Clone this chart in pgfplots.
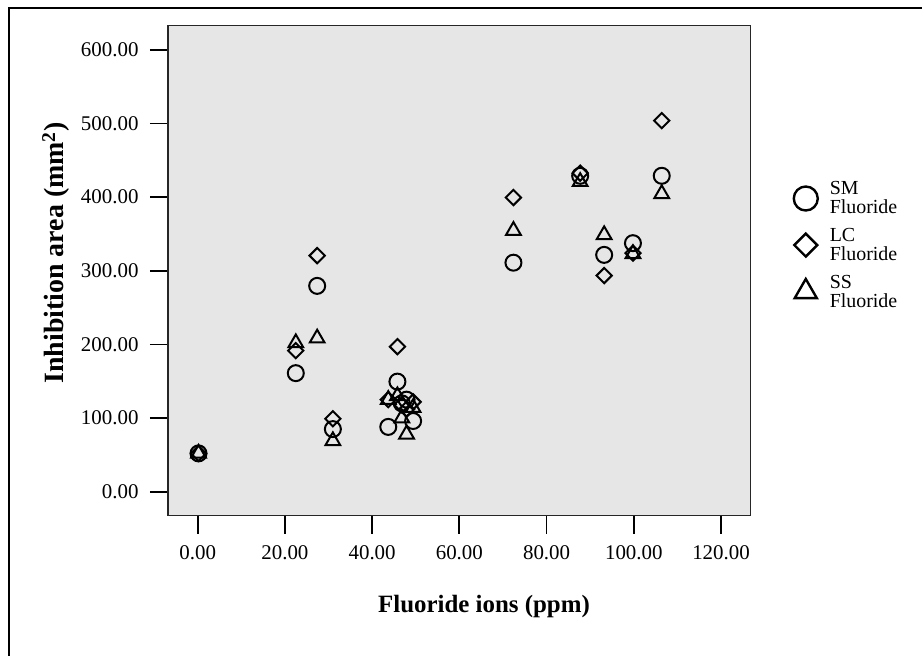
\documentclass[border=0pt]{standalone}
\usepackage{fontspec}
\setmainfont{Liberation Serif}
\usepackage{pgfplots}
\pgfplotsset{compat=1.18}
\definecolor{plotbg}{RGB}{230,230,230}
\begin{document}
\begin{tikzpicture}[x=1bp,y=1bp]
\useasboundingbox (0,0) rectangle (922,656);
\draw[line width=1.2bp, black] (9,0) -- (9,648) -- (922,648);
\begin{axis}[
 at={(168bp,140.3bp)}, anchor=south west,
 width=582.7bp, height=490.1bp, scale only axis,
 xmin=-6.8, xmax=126.8, ymin=-32.6, ymax=633,
 axis background/.style={fill=plotbg},
 axis line style={line width=1.5bp, black!85},
 xtick={0,20,...,120}, ytick={0,100,...,600},
 xtick pos=bottom, ytick pos=left,
 tick align=outside, major tick length=18bp,
 tick style={line width=1.8bp, black},
 ticklabel style={font=\fontsize{21}{23}\selectfont},
 xticklabel style={yshift=-8bp},
 yticklabel style={xshift=-8bp},
 xlabel={\textbf{Fluoride ions (ppm)}},
 ylabel={\textbf{Inhibition area (mm\textsuperscript{2})}},
 xlabel style={font=\fontsize{25}{28}\selectfont, at={(axis description cs:0.5423,-0.1863)}, anchor=center},
 ylabel style={font=\fontsize{28}{30}\selectfont, at={(axis description cs:-0.1922,0.536)}, anchor=center},
 legend style={draw=none, fill=none, at={(axis description cs:1.065,0.69)}, anchor=north west,
   font=\fontsize{20}{19}\selectfont, cells={align=left, anchor=west}, row sep=9bp},
 legend image code/.code={\path (-13bp,0) (21bp,0); \draw[#1, line width=2.4bp, every mark/.append style={scale=1.5}] plot coordinates {(0bp,0bp)};},
 /pgf/number format/.cd, fixed, fixed zerofill, precision=2, 1000 sep={}, assume math mode=true,
]
\addplot[only marks, mark=o, mark size=8bp, line width=2bp, black] coordinates {
 (0.2,52) (22.5,161) (27.4,279.5) (31,85) (43.7,88) (45.8,149.5) (46.8,120) (47.9,125) (49.4,96)
 (72.4,311) (87.7,429) (93.2,321.6) (99.8,337.5) (106.4,429)
};
\addlegendentry{SM\\Fluoride}
\addplot[only marks, mark=square, mark options={rotate=45}, mark size=5.4bp, line width=2bp, black] coordinates {
 (0.2,52) (22.5,191.6) (27.4,320.6) (31,99) (43.7,125) (45.8,197) (46.8,118) (47.9,112) (49.4,122)
 (72.4,399.5) (87.7,432.6) (93.2,293.5) (99.8,324) (106.4,504)
};
\addlegendentry{LC\\Fluoride}
\addplot[only marks, mark=triangle, mark size=8.5bp, line width=2bp, black] coordinates {
 (0.2,52) (22.5,202) (27.4,208.4) (31,69) (43.7,125) (45.8,130) (46.8,100) (47.9,78) (49.4,114)
 (72.4,354.6) (87.7,421) (93.2,348.8) (99.8,323) (106.4,404.5)
};
\addlegendentry{SS\\Fluoride}
\end{axis}
\end{tikzpicture}
\end{document}
